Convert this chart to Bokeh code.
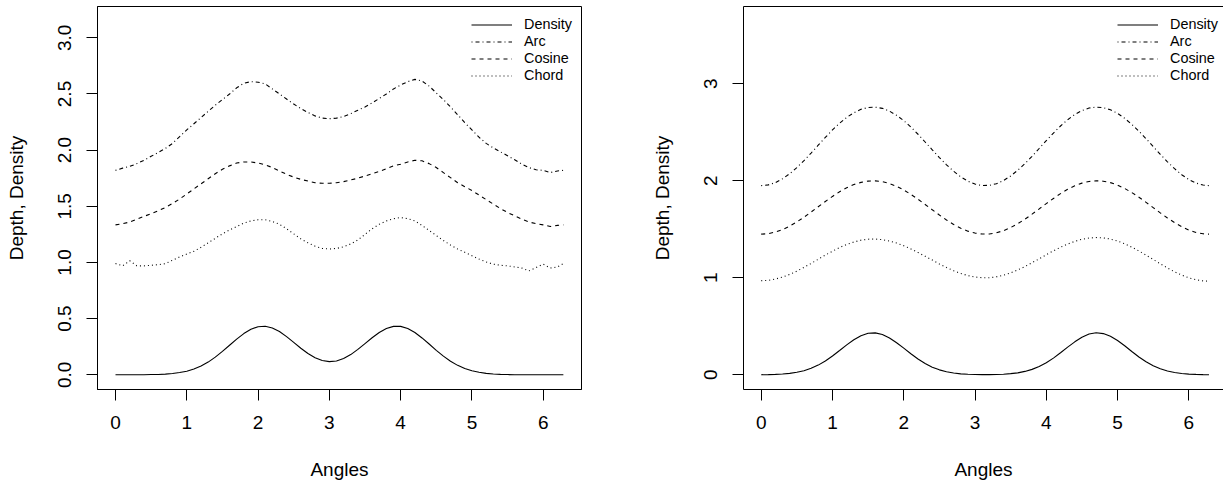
from bokeh.plotting import figure
from bokeh.layouts import row
from bokeh.models import FixedTicker, PrintfTickFormatter, LinearAxis, Range1d
from bokeh.embed import file_html
from bokeh.resources import INLINE

# ---------------- data ----------------
ANGLES = [0.0, 0.1, 0.2, 0.3, 0.4, 0.5, 0.6, 0.7, 0.8, 0.9,
          1.0, 1.1, 1.2, 1.3, 1.4, 1.5, 1.6, 1.7, 1.8, 1.9,
          2.0, 2.1, 2.2, 2.3, 2.4, 2.5, 2.6, 2.7, 2.8, 2.9,
          3.0, 3.1, 3.2, 3.3, 3.4, 3.5, 3.6, 3.7, 3.8, 3.9,
          4.0, 4.1, 4.2, 4.3, 4.4, 4.5, 4.6, 4.7, 4.8, 4.9,
          5.0, 5.1, 5.2, 5.3, 5.4, 5.5, 5.6, 5.7, 5.8, 5.9,
          6.0, 6.1, 6.2, 6.283]

LEFT_DENSITY = [0.000, 0.000, 0.000, 0.000, 0.001, 0.002, 0.003, 0.006, 0.011, 0.020,
                0.032, 0.051, 0.078, 0.113, 0.157, 0.208, 0.263, 0.318, 0.367, 0.406,
                0.428, 0.432, 0.417, 0.385, 0.340, 0.289, 0.236, 0.189, 0.152, 0.127,
                0.117, 0.123, 0.145, 0.180, 0.226, 0.278, 0.330, 0.377, 0.412, 0.431,
                0.431, 0.412, 0.376, 0.328, 0.274, 0.218, 0.166, 0.121, 0.084, 0.056,
                0.036, 0.022, 0.013, 0.007, 0.004, 0.002, 0.001, 0.000, 0.000, 0.000,
                0.000, 0.000, 0.000, 0.000]
LEFT_ARC = [1.82, 1.84, 1.855, 1.88, 1.91, 1.945, 1.98, 2.015, 2.06, 2.12,
            2.18, 2.235, 2.29, 2.345, 2.40, 2.45, 2.50, 2.555, 2.595, 2.61,
            2.605, 2.59, 2.545, 2.50, 2.455, 2.41, 2.37, 2.335, 2.305, 2.285,
            2.28, 2.285, 2.30, 2.325, 2.355, 2.385, 2.42, 2.46, 2.50, 2.545,
            2.58, 2.61, 2.63, 2.615, 2.57, 2.51, 2.45, 2.385, 2.315, 2.245,
            2.18, 2.115, 2.06, 2.02, 1.985, 1.95, 1.915, 1.875, 1.845, 1.825,
            1.82, 1.80, 1.815, 1.82]
LEFT_COSINE = [1.335, 1.345, 1.36, 1.385, 1.41, 1.435, 1.46, 1.49, 1.525, 1.565,
               1.61, 1.655, 1.70, 1.745, 1.79, 1.83, 1.86, 1.885, 1.895, 1.895,
               1.885, 1.87, 1.845, 1.815, 1.785, 1.76, 1.74, 1.725, 1.71, 1.705,
               1.705, 1.71, 1.72, 1.735, 1.75, 1.77, 1.79, 1.81, 1.835, 1.86,
               1.875, 1.895, 1.91, 1.905, 1.88, 1.845, 1.80, 1.755, 1.71, 1.675,
               1.64, 1.60, 1.56, 1.52, 1.48, 1.445, 1.415, 1.385, 1.36, 1.345,
               1.335, 1.32, 1.33, 1.335]
LEFT_CHORD = [0.99, 0.97, 1.015, 0.97, 0.97, 0.975, 0.98, 0.99, 1.02, 1.05,
              1.075, 1.10, 1.135, 1.175, 1.215, 1.255, 1.29, 1.32, 1.35, 1.37,
              1.38, 1.38, 1.365, 1.34, 1.30, 1.255, 1.21, 1.175, 1.145, 1.125,
              1.12, 1.125, 1.14, 1.165, 1.20, 1.25, 1.30, 1.34, 1.37, 1.39,
              1.40, 1.39, 1.37, 1.33, 1.285, 1.24, 1.195, 1.155, 1.12, 1.09,
              1.06, 1.03, 1.005, 0.985, 0.975, 0.97, 0.96, 0.95, 0.925, 0.955,
              0.985, 0.95, 0.96, 0.99]

RIGHT_DENSITY = [0.001, 0.002, 0.004, 0.008, 0.015, 0.026, 0.042, 0.067, 0.100, 0.143,
                 0.194, 0.250, 0.308, 0.361, 0.403, 0.428, 0.432, 0.416, 0.380, 0.331,
                 0.275, 0.217, 0.163, 0.117, 0.079, 0.051, 0.032, 0.019, 0.010, 0.006,
                 0.003, 0.002, 0.002, 0.003, 0.006, 0.012, 0.020, 0.035, 0.056, 0.085,
                 0.124, 0.172, 0.227, 0.285, 0.340, 0.388, 0.420, 0.433, 0.425, 0.397,
                 0.353, 0.299, 0.240, 0.184, 0.135, 0.093, 0.062, 0.039, 0.023, 0.013,
                 0.007, 0.004, 0.002, 0.001]
RIGHT_ARC = [1.950, 1.958, 1.982, 2.021, 2.073, 2.136, 2.208, 2.286, 2.367, 2.447,
             2.524, 2.593, 2.654, 2.702, 2.737, 2.756, 2.759, 2.747, 2.718, 2.675,
             2.620, 2.554, 2.480, 2.400, 2.320, 2.240, 2.165, 2.098, 2.041, 1.996,
             1.966, 1.951, 1.953, 1.970, 2.003, 2.050, 2.109, 2.177, 2.253, 2.333,
             2.414, 2.492, 2.565, 2.630, 2.683, 2.724, 2.750, 2.760, 2.754, 2.732,
             2.695, 2.644, 2.582, 2.511, 2.434, 2.353, 2.273, 2.196, 2.125, 2.063,
             2.013, 1.977, 1.956, 1.950]
RIGHT_COSINE = [1.450, 1.455, 1.472, 1.498, 1.533, 1.576, 1.625, 1.678, 1.733, 1.787,
                1.839, 1.887, 1.928, 1.961, 1.984, 1.997, 1.999, 1.991, 1.972, 1.943,
                1.905, 1.860, 1.810, 1.756, 1.701, 1.647, 1.596, 1.550, 1.512, 1.481,
                1.461, 1.451, 1.452, 1.464, 1.486, 1.518, 1.558, 1.604, 1.656, 1.710,
                1.765, 1.818, 1.868, 1.912, 1.948, 1.976, 1.993, 2.000, 1.996, 1.981,
                1.956, 1.921, 1.879, 1.831, 1.778, 1.724, 1.669, 1.617, 1.569, 1.527,
                1.493, 1.468, 1.454, 1.450]
RIGHT_CHORD = [0.970, 0.974, 0.987, 1.008, 1.035, 1.069, 1.107, 1.148, 1.191, 1.234,
               1.274, 1.312, 1.344, 1.369, 1.388, 1.398, 1.400, 1.393, 1.379, 1.358,
               1.331, 1.298, 1.261, 1.222, 1.183, 1.143, 1.106, 1.073, 1.045, 1.023,
               1.008, 1.001, 1.001, 1.010, 1.027, 1.051, 1.081, 1.116, 1.155, 1.196,
               1.238, 1.278, 1.315, 1.348, 1.376, 1.397, 1.410, 1.415, 1.412, 1.399,
               1.379, 1.351, 1.316, 1.277, 1.234, 1.189, 1.144, 1.101, 1.062, 1.028,
               1.000, 0.980, 0.968, 0.965]

SERIES_NAMES = ["Density", "Arc", "Cosine", "Chord"]
X_TICKS = [0, 1, 2, 3, 4, 5, 6]
LEFT_Y_TICKS = [0.0, 0.5, 1.0, 1.5, 2.0, 2.5, 3.0]
RIGHT_Y_TICKS = [0, 1, 2, 3]
X_TITLE = "Angles"
Y_TITLE = "Depth, Density"

# ---------------- style ----------------
FONT = "Liberation Sans"
LABEL_SIZE = "19px"
LEGEND_SIZE = "14.4px"
DASHES = {"Density": "solid", "Arc": "1 3 4 3", "Cosine": "4 4", "Chord": "1 3"}


def style_axis(ax, ticks, fmt, title, vertical, label_standoff, title_standoff):
    ax.ticker = FixedTicker(ticks=ticks)
    ax.formatter = PrintfTickFormatter(format=fmt)
    ax.axis_label = title
    ax.axis_label_text_font = FONT
    ax.axis_label_text_font_size = LABEL_SIZE
    ax.axis_label_text_font_style = "normal"
    ax.axis_label_text_color = "black"
    ax.major_label_text_font = FONT
    ax.major_label_text_font_size = LABEL_SIZE
    ax.major_label_text_color = "black"
    ax.major_tick_out = 11
    ax.major_tick_in = 0
    ax.minor_tick_out = 0
    ax.minor_tick_in = 0
    ax.major_tick_line_color = "black"
    ax.axis_line_color = "black"
    ax.major_label_standoff = label_standoff
    ax.axis_label_standoff = title_standoff
    if vertical:
        ax.major_label_orientation = "vertical"


def make_panel(width, border_left, border_right, xr, yr, series, y_ticks, y_fmt, boxed):
    p = figure(width=width, height=483, output_backend="svg", toolbar_location=None,
               x_range=Range1d(*xr), y_range=Range1d(*yr),
               min_border_left=border_left, min_border_right=border_right,
               min_border_top=6, min_border_bottom=94,
               background_fill_color="white", border_fill_color="white")
    p.xgrid.visible = False
    p.ygrid.visible = False
    style_axis(p.below[0], X_TICKS, "%d", X_TITLE, False, 15, 27)
    style_axis(p.left[0], y_ticks, y_fmt, Y_TITLE, True, 15, 29)
    if boxed:
        p.outline_line_color = "black"
        p.outline_line_width = 1
    else:
        p.outline_line_color = None
        top = LinearAxis(ticker=FixedTicker(ticks=[]), major_tick_out=0, major_tick_in=0,
                         minor_tick_out=0, minor_tick_in=0, major_label_standoff=0,
                         major_label_text_font_size="0px", axis_label_standoff=0,
                         axis_line_color="black")
        p.add_layout(top, "above")

    for name, ys in zip(SERIES_NAMES, series):
        p.line(ANGLES, ys, line_color="black", line_width=1.1,
               line_dash=DASHES[name], legend_label=name)

    lg = p.legend[0]
    lg.location = (374, 305.5)
    lg.border_line_color = None
    lg.background_fill_alpha = 0
    lg.padding = 0
    lg.margin = 0
    lg.spacing = 0
    lg.glyph_width = 41
    lg.glyph_height = 17
    lg.label_height = 17
    lg.label_standoff = 12
    lg.label_text_font = FONT
    lg.label_text_font_size = LEGEND_SIZE
    lg.label_text_color = "black"
    return p


left = make_panel(611, 97, 30, (-0.2525, 6.5373), (-0.1309, 3.2788),
                  [LEFT_DENSITY, LEFT_ARC, LEFT_COSINE, LEFT_CHORD],
                  LEFT_Y_TICKS, "%.1f", True)
right = make_panel(612, 132, 0, (-0.2484, 6.4866), (-0.1515, 3.7969),
                   [RIGHT_DENSITY, RIGHT_ARC, RIGHT_COSINE, RIGHT_CHORD],
                   RIGHT_Y_TICKS, "%d", False)

layout = row(left, right)

open("out.html", "w").write(file_html(layout, INLINE))
